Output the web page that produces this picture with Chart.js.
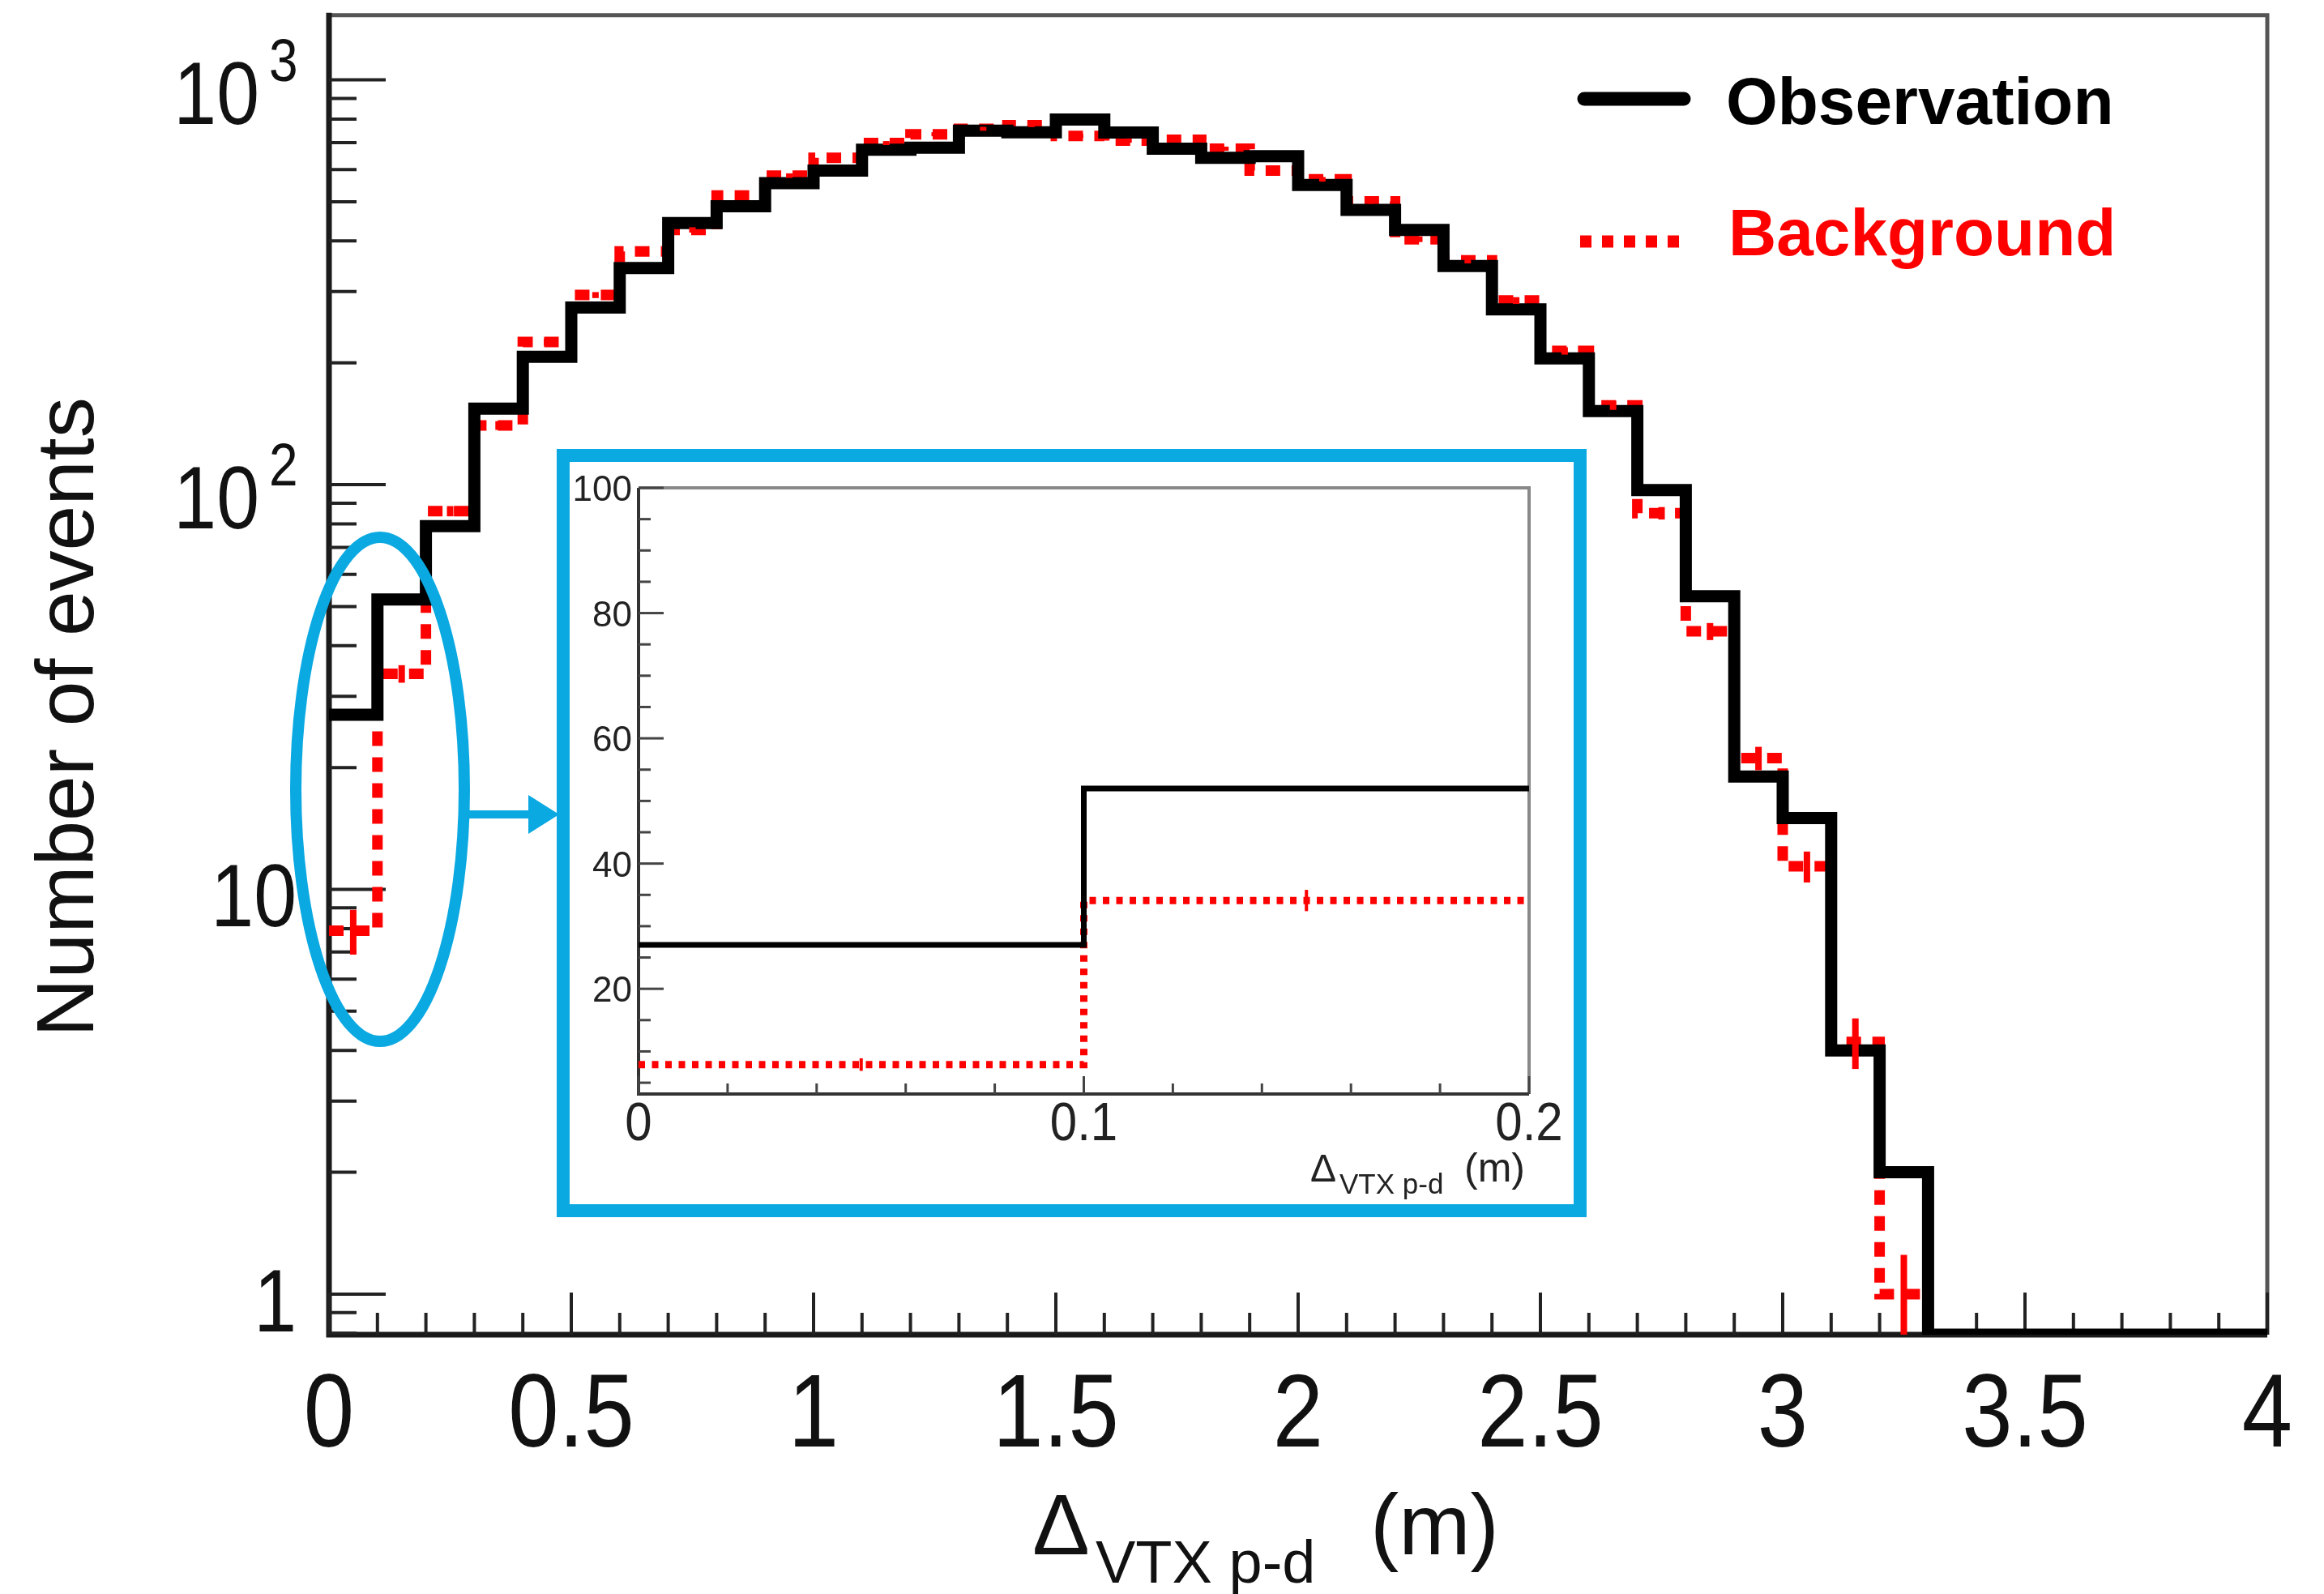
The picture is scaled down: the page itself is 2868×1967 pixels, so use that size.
<!DOCTYPE html>
<html>
<head>
<meta charset="utf-8">
<script src="https://cdn.jsdelivr.net/npm/chart.js@4.4.1/dist/chart.umd.min.js"></script>
<style>
  html, body { margin: 0; padding: 0; background: #fff; }
  #wrap { position: relative; width: 2868px; height: 1967px; }
  #main { position: absolute; left: 0; top: 0; }
  #insetBox {
    position: absolute; left: 687px; top: 554px; width: 1271px; height: 948px;
    box-sizing: border-box; border: 16px solid #0BA9E2; background: #fff;
  }
  #inset { display: block; }
</style>
</head>
<body>
<div id="wrap">
  <canvas id="main" width="2868" height="1967"></canvas>
  <div id="insetBox"><canvas id="inset" width="1239" height="916"></canvas></div>
</div>
<script>
// histogram bins: lower edge of each 0.1 m bin
const binLow = [0.0, 0.1, 0.2, 0.3, 0.4, 0.5, 0.6, 0.7, 0.8, 0.9,
                1.0, 1.1, 1.2, 1.3, 1.4, 1.5, 1.6, 1.7, 1.8, 1.9,
                2.0, 2.1, 2.2, 2.3, 2.4, 2.5, 2.6, 2.7, 2.8, 2.9,
                3.0, 3.1, 3.2, 3.3, 3.4, 3.5, 3.6, 3.7, 3.8, 3.9];
const binWidth = 0.1;

const observation = [27, 52, 79, 154, 207, 274, 343, 443, 487, 556,
                     597, 672, 680, 749, 742, 798, 741, 676, 642, 648,
                     550, 477, 426, 347, 271, 205, 152, 97, 53, 19,
                     15, 4, 2, 0, 0, 0, 0, 0, 0, 0];

const background = [7.9, 34.1, 86, 140, 225, 294, 377, 426, 518, 580,
                    642, 698, 734, 757, 773, 727, 708, 711, 676, 597,
                    568, 501, 404, 358, 285, 214, 157, 85, 43.4, 21.1,
                    11.4, 4.2, 1.0, 0, 0, 0, 0, 0, 0, 0];

const backgroundErr = [1.0, 1.7, 2.5, 3.5, 4.5, 5, 6, 6.5, 7, 7.5,
                       8, 8, 8.5, 8.5, 8.5, 8.5, 8.5, 8.5, 8, 7.5,
                       7.5, 7, 6.5, 6, 5.5, 4.5, 4, 3, 2.1, 1.4,
                       1.0, 0.6, 0.25, 0, 0, 0, 0, 0, 0, 0];

const xTickLabels = ['0', '0.5', '1', '1.5', '2', '2.5', '3', '3.5', '4'];
const yDecades = [1, 10, 100, 1000];
const insetBins = 2;
const insetXLabels = ['0', '0.1', '0.2'];
const insetYLabels = [20, 40, 60, 80, 100];

const yMin = 0.794, yMax = 1445;
const FONT = '"Liberation Sans", Arial, Helvetica, sans-serif';
const BLUE = '#0BA9E2';

function histPoints(lows, values, floor) {
  const pts = lows.map((lo, i) => ({ x: lo, y: values[i] > 0 ? values[i] : floor }));
  pts.push({ x: lows[lows.length - 1] + binWidth, y: pts[pts.length - 1].y });
  return pts;
}

function stretchText(ctx, text, x, y, sy) {
  ctx.save();
  ctx.translate(x, y);
  ctx.scale(1, sy);
  ctx.fillText(text, 0, 0);
  ctx.restore();
}

function errorBars(ctx, x, y, lows, values, errs, width, cap) {
  ctx.save();
  ctx.strokeStyle = '#ff0000';
  ctx.lineWidth = width;
  ctx.setLineDash([]);
  lows.forEach((lo, i) => {
    if (!(values[i] > 0) || !(errs[i] > 0)) return;
    const px = x.getPixelForValue(lo + binWidth / 2);
    const top = y.getPixelForValue(values[i] + errs[i]);
    const bot = y.getPixelForValue(Math.max(values[i] - errs[i], yMin));
    ctx.beginPath();
    ctx.moveTo(px, top); ctx.lineTo(px, bot);
    if (cap > 0) {
      ctx.moveTo(px - cap, top); ctx.lineTo(px + cap, top);
      ctx.moveTo(px - cap, bot); ctx.lineTo(px + cap, bot);
    }
    ctx.stroke();
  });
  ctx.restore();
}

const mainDecor = {
  id: 'mainDecor',
  beforeDatasetsDraw(chart) {
    const { ctx, chartArea: a, scales: { x, y } } = chart;
    ctx.save();
    // frame
    ctx.strokeStyle = '#555';
    ctx.lineWidth = 5;
    ctx.beginPath();
    ctx.moveTo(a.left, a.top); ctx.lineTo(a.right, a.top); ctx.lineTo(a.right, a.bottom);
    ctx.stroke();
    ctx.strokeStyle = '#1a1a1a';
    ctx.lineWidth = 7;
    ctx.beginPath();
    ctx.moveTo(a.left, a.top - 3); ctx.lineTo(a.left, a.bottom); ctx.lineTo(a.right, a.bottom);
    ctx.stroke();

    // x ticks, inside the frame
    ctx.lineWidth = 4;
    ctx.strokeStyle = '#222';
    for (let i = 0; i <= 40; i++) {
      const px = x.getPixelForValue(i / 10);
      const len = i % 5 === 0 ? 52 : 27;
      ctx.beginPath();
      ctx.moveTo(px, a.bottom); ctx.lineTo(px, a.bottom - len);
      ctx.stroke();
    }
    // y ticks (log)
    for (let e = -1; e <= 3; e++) {
      for (let m = 1; m <= 9; m++) {
        const v = m * Math.pow(10, e);
        if (v < yMin || v > yMax) continue;
        const py = y.getPixelForValue(v);
        const len = m === 1 ? 70 : 34;
        ctx.beginPath();
        ctx.moveTo(a.left, py); ctx.lineTo(a.left + len, py);
        ctx.stroke();
      }
    }

    // x tick labels
    ctx.fillStyle = '#111';
    ctx.font = '112px ' + FONT;
    ctx.textAlign = 'center';
    ctx.textBaseline = 'alphabetic';
    xTickLabels.forEach(t => {
      stretchText(ctx, t, x.getPixelForValue(parseFloat(t)), 1785, 1.15);
    });

    // y tick labels
    yDecades.forEach(v => {
      const py = y.getPixelForValue(v);
      ctx.textAlign = 'right';
      if (v < 100) {
        ctx.font = '95px ' + FONT;
        stretchText(ctx, String(v), 366, py + 46, 1.15);
      } else {
        ctx.font = '95px ' + FONT;
        stretchText(ctx, '10', 320, py + 54, 1.15);
        ctx.textAlign = 'left';
        ctx.font = '64px ' + FONT;
        stretchText(ctx, String(Math.round(Math.log10(v))), 332, py + 1, 1.15);
      }
    });

    // axis titles
    ctx.fillStyle = '#111';
    ctx.textAlign = 'center';
    ctx.font = '100px ' + FONT;
    ctx.save();
    ctx.translate(115, 885);
    ctx.rotate(-Math.PI / 2);
    ctx.fillText('Number of events', 0, 0);
    ctx.restore();

    ctx.textAlign = 'left';
    ctx.font = '106px ' + FONT;
    ctx.fillText('\u0394', 1274, 1918);
    ctx.font = '74px ' + FONT;
    ctx.fillText('VTX p-d', 1352, 1953);
    ctx.font = '106px ' + FONT;
    ctx.fillText('(m)', 1691, 1918);
    ctx.restore();
  },
  afterDatasetsDraw(chart) {
    const { ctx, scales: { x, y } } = chart;
    errorBars(ctx, x, y, binLow, background, backgroundErr, 8, 0);

    ctx.save();
    // highlight ellipse and arrow
    ctx.strokeStyle = BLUE;
    ctx.lineWidth = 14;
    ctx.beginPath();
    ctx.ellipse(469, 974, 104, 311, 0, 0, Math.PI * 2);
    ctx.stroke();
    ctx.lineWidth = 10;
    ctx.beginPath();
    ctx.moveTo(575, 1005); ctx.lineTo(660, 1005);
    ctx.stroke();
    ctx.fillStyle = BLUE;
    ctx.beginPath();
    ctx.moveTo(652, 981); ctx.lineTo(690, 1005); ctx.lineTo(652, 1029);
    ctx.closePath();
    ctx.fill();

    // legend
    ctx.lineCap = 'round';
    ctx.strokeStyle = '#000';
    ctx.lineWidth = 17;
    ctx.beginPath();
    ctx.moveTo(1955, 122); ctx.lineTo(2078, 122);
    ctx.stroke();
    ctx.strokeStyle = '#ff0000';
    ctx.lineWidth = 15;
    ctx.lineCap = 'butt';
    ctx.setLineDash([14, 13]);
    ctx.beginPath();
    ctx.moveTo(1950, 298); ctx.lineTo(2084, 298);
    ctx.stroke();
    ctx.setLineDash([]);
    ctx.font = 'bold 82px ' + FONT;
    ctx.textAlign = 'left';
    ctx.textBaseline = 'alphabetic';
    ctx.fillStyle = '#000';
    ctx.fillText('Observation', 2130, 153);
    ctx.fillStyle = '#ff0000';
    ctx.fillText('Background', 2133, 315);
    ctx.restore();
  }
};

new Chart(document.getElementById('main'), {
  type: 'line',
  data: {
    datasets: [
      {
        label: 'Observation',
        data: histPoints(binLow, observation, yMin),
        borderColor: '#000',
        borderWidth: 15,
        borderJoinStyle: 'miter',
        stepped: true,
        pointRadius: 0,
        fill: false
      },
      {
        label: 'Background',
        data: histPoints(binLow, background, yMin),
        borderColor: '#ff0000',
        borderWidth: 13,
        borderDash: [18, 14],
        borderJoinStyle: 'miter',
        stepped: true,
        pointRadius: 0,
        fill: false
      }
    ]
  },
  options: {
    responsive: false,
    animation: false,
    events: [],
    layout: { padding: { left: 0, top: 18.7, right: 70, bottom: 0 } },
    plugins: { legend: { display: false }, tooltip: { enabled: false } },
    scales: {
      x: {
        type: 'linear', min: 0, max: 4,
        grid: { display: false }, border: { display: false },
        ticks: { display: false },
        afterFit: s => { s.height = 320; }
      },
      y: {
        type: 'logarithmic', min: yMin, max: yMax,
        grid: { display: false }, border: { display: false },
        ticks: { display: false },
        afterFit: s => { s.width = 406; }
      }
    }
  },
  plugins: [mainDecor]
});

// ---- inset: zoom on the first two bins ----
const insetLow = binLow.slice(0, insetBins);
const insetObs = observation.slice(0, insetBins);
const insetBg = background.slice(0, insetBins);
const insetBgErr = backgroundErr.slice(0, insetBins);
const insetMin = 3.2;

const insetDecor = {
  id: 'insetDecor',
  beforeDatasetsDraw(chart) {
    const { ctx, chartArea: a, scales: { x, y } } = chart;
    ctx.save();
    ctx.strokeStyle = '#888';
    ctx.lineWidth = 4;
    ctx.beginPath();
    ctx.moveTo(a.left, a.top); ctx.lineTo(a.right, a.top); ctx.lineTo(a.right, a.bottom);
    ctx.stroke();
    ctx.strokeStyle = '#333';
    ctx.beginPath();
    ctx.moveTo(a.left, a.top); ctx.lineTo(a.left, a.bottom); ctx.lineTo(a.right, a.bottom);
    ctx.stroke();

    ctx.lineWidth = 3;
    ctx.strokeStyle = '#444';
    for (let v = 5; v <= 100; v += 5) {
      const py = y.getPixelForValue(v);
      const len = v % 20 === 0 ? 31 : 15;
      ctx.beginPath();
      ctx.moveTo(a.left, py); ctx.lineTo(a.left + len, py);
      ctx.stroke();
    }
    for (let i = 0; i <= 10; i++) {
      const px = x.getPixelForValue(i * 0.02);
      const len = i % 5 === 0 ? 22 : 13;
      ctx.beginPath();
      ctx.moveTo(px, a.bottom); ctx.lineTo(px, a.bottom - len);
      ctx.stroke();
    }

    ctx.fillStyle = '#222';
    ctx.font = '44px ' + FONT;
    ctx.textAlign = 'right';
    ctx.textBaseline = 'middle';
    insetYLabels.forEach(v => ctx.fillText(String(v), a.left - 8, y.getPixelForValue(v) + 4));

    ctx.textAlign = 'center';
    ctx.textBaseline = 'alphabetic';
    ctx.font = '60px ' + FONT;
    insetXLabels.forEach(t => stretchText(ctx, t, x.getPixelForValue(parseFloat(t)), 837, 1.1));

    ctx.textAlign = 'left';
    ctx.font = '48px ' + FONT;
    ctx.fillText('\u0394', 914, 888);
    ctx.font = '35px ' + FONT;
    ctx.fillText('VTX p-d', 950, 903);
    ctx.font = '50px ' + FONT;
    ctx.fillText('(m)', 1104, 888);
    ctx.restore();
  },
  afterDatasetsDraw(chart) {
    const { ctx, scales: { x, y } } = chart;
    errorBars(ctx, x, y, insetLow, insetBg, insetBgErr, 4, 0);
  }
};

new Chart(document.getElementById('inset'), {
  type: 'line',
  data: {
    datasets: [
      {
        label: 'Observation',
        data: histPoints(insetLow, insetObs, insetMin),
        borderColor: '#000',
        borderWidth: 7,
        borderJoinStyle: 'miter',
        stepped: true,
        pointRadius: 0,
        fill: false
      },
      {
        label: 'Background',
        data: histPoints(insetLow, insetBg, insetMin),
        borderColor: '#ff0000',
        borderWidth: 9,
        borderDash: [8, 8.5],
        borderJoinStyle: 'miter',
        stepped: true,
        pointRadius: 0,
        fill: false
      }
    ]
  },
  options: {
    responsive: false,
    animation: false,
    events: [],
    layout: { padding: { left: 0, top: 32, right: 55, bottom: 0 } },
    plugins: { legend: { display: false }, tooltip: { enabled: false } },
    scales: {
      x: {
        type: 'linear', min: 0, max: 0.2,
        grid: { display: false }, border: { display: false },
        ticks: { display: false },
        afterFit: s => { s.height = 136; }
      },
      y: {
        type: 'linear', min: insetMin, max: 100,
        grid: { display: false }, border: { display: false },
        ticks: { display: false },
        afterFit: s => { s.width = 85; }
      }
    }
  },
  plugins: [insetDecor]
});
</script>
</body>
</html>
